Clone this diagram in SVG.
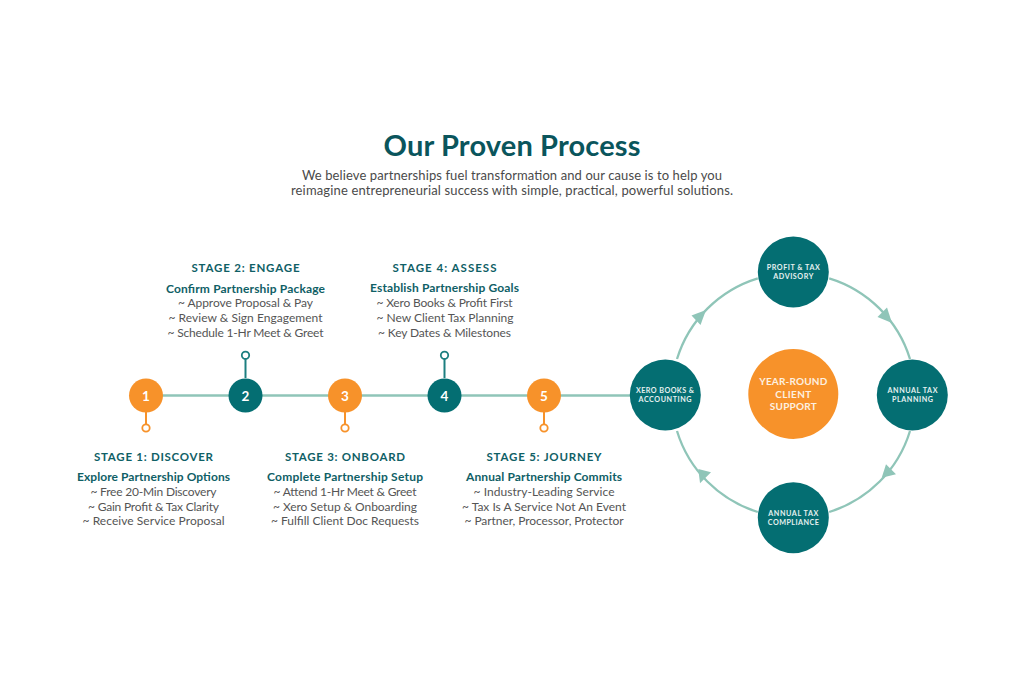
<svg xmlns="http://www.w3.org/2000/svg" width="1024" height="683" viewBox="0 0 1024 683">
<style>
text{font-family:"Lato","Open Sans","Liberation Sans",sans-serif;text-anchor:middle}
.title{font-size:29px;font-weight:700;fill:#0a555c}
.intro{font-size:13px;fill:#4a4a4a}
.stage{font-size:11.5px;font-weight:700;fill:#0f6066}
.sub{font-size:12px;font-weight:700;fill:#0f6066}
.item{font-size:12px;fill:#555}
.num{font-size:13.5px;font-weight:700;fill:#fff}
.cap{font-size:7.2px;font-weight:700;fill:#e6f1f0}
.core{font-size:10px;font-weight:700;fill:#fdf0e0}
.o{fill:#f7922a}.t{fill:#046e72}
.line{fill:none;stroke:#8fc5b8;stroke-width:2.3}
.head{fill:#8fc5b8}
.so{fill:#fff;stroke:#f7922a;stroke-width:1.8}
.st{fill:#fff;stroke:#1d7f80;stroke-width:1.8}
.sto{stroke:#f7922a;stroke-width:2;fill:none}
.stt{stroke:#1d7f80;stroke-width:2;fill:none}
</style>
<rect width="1024" height="683" fill="#fff"/>
<g id="heading">
<text class="title" x="512" y="155.5" textLength="257">Our Proven Process</text>
<text class="intro" x="512" y="180" textLength="420">We believe partnerships fuel transformation and our cause is to help you</text>
<text class="intro" x="512" y="195" textLength="442">reimagine entrepreneurial success with simple, practical, powerful solutions.</text>
</g>
<g id="connectors">
<path class="line" d="M146 395.5H640"/>
<path class="line" d="M829.2 278.3A122 122 0 0 1 910 359"/>
<path class="line" d="M910 431A122 122 0 0 1 829.2 512"/>
<path class="line" d="M757.8 512A122 122 0 0 1 677 431"/>
<path class="line" d="M677 359A122 122 0 0 1 757.8 278.3"/>
<polygon class="head" points="887,307.5 877.5,317 892,323"/>
<polygon class="head" points="886,464.3 896,474.3 881.7,477.7"/>
<polygon class="head" points="698.3,469 711,472.3 700,483.3"/>
<polygon class="head" points="706,310 691.5,315.5 700.5,325"/>
<path class="sto" d="M146 412V424"/><path class="stt" d="M245.5 378V359"/><path class="sto" d="M345 412V424"/><path class="stt" d="M444.5 378V359"/><path class="sto" d="M544 412V424"/>
</g>
<g id="stage-1">
<circle class="o" cx="146" cy="395.5" r="17"/><text class="num" x="146" y="400.5">1</text>
<circle class="so" cx="146" cy="428" r="3.7"/>
<text class="stage" x="153.5" y="460.5" textLength="119">STAGE 1: DISCOVER</text>
<text class="sub" x="153.5" y="481" textLength="153">Explore Partnership Options</text>
<text class="item" x="153.5" y="496" textLength="126">~ Free 20-Min Discovery</text>
<text class="item" x="153.5" y="510.5" textLength="131">~ Gain Profit &amp; Tax Clarity</text>
<text class="item" x="153.5" y="525" textLength="142">~ Receive Service Proposal</text>
</g>
<g id="stage-2">
<circle class="t" cx="245.5" cy="395.5" r="17"/><text class="num" x="245.5" y="400.5">2</text>
<circle class="st" cx="245.5" cy="355.3" r="3.7"/>
<text class="stage" x="245.5" y="271.5" textLength="108">STAGE 2: ENGAGE</text>
<text class="sub" x="245.5" y="292.5" textLength="159">Confirm Partnership Package</text>
<text class="item" x="245.5" y="307" textLength="135">~ Approve Proposal &amp; Pay</text>
<text class="item" x="245.5" y="322" textLength="154">~ Review &amp; Sign Engagement</text>
<text class="item" x="245.5" y="336.5" textLength="156">~ Schedule 1-Hr Meet &amp; Greet</text>
</g>
<g id="stage-3">
<circle class="o" cx="345" cy="395.5" r="17"/><text class="num" x="345" y="400.5">3</text>
<circle class="so" cx="345" cy="428" r="3.7"/>
<text class="stage" x="345" y="460.5" textLength="120">STAGE 3: ONBOARD</text>
<text class="sub" x="345" y="481" textLength="156">Complete Partnership Setup</text>
<text class="item" x="345" y="496" textLength="143">~ Attend 1-Hr Meet &amp; Greet</text>
<text class="item" x="345" y="510.5" textLength="144">~ Xero Setup &amp; Onboarding</text>
<text class="item" x="345" y="525" textLength="148">~ Fulfill Client Doc Requests</text>
</g>
<g id="stage-4">
<circle class="t" cx="444.5" cy="395.5" r="17"/><text class="num" x="444.5" y="400.5">4</text>
<circle class="st" cx="444.5" cy="355.3" r="3.7"/>
<text class="stage" x="444.5" y="271.5" textLength="104">STAGE 4: ASSESS</text>
<text class="sub" x="444.5" y="292" textLength="149">Establish Partnership Goals</text>
<text class="item" x="444.5" y="307" textLength="136">~ Xero Books &amp; Profit First</text>
<text class="item" x="445" y="322" textLength="137">~ New Client Tax Planning</text>
<text class="item" x="444.5" y="336.5" textLength="133">~ Key Dates &amp; Milestones</text>
</g>
<g id="stage-5">
<circle class="o" cx="544" cy="395.5" r="17"/><text class="num" x="544" y="400.5">5</text>
<circle class="so" cx="544" cy="428" r="3.7"/>
<text class="stage" x="544" y="460.5" textLength="115">STAGE 5: JOURNEY</text>
<text class="sub" x="544" y="481" textLength="156">Annual Partnership Commits</text>
<text class="item" x="544" y="496" textLength="141">~ Industry-Leading Service</text>
<text class="item" x="544" y="510.5" textLength="164">~ Tax Is A Service Not An Event</text>
<text class="item" x="544" y="525" textLength="159">~ Partner, Processor, Protector</text>
</g>
<g id="profit-tax-advisory">
<circle class="t" cx="793.3" cy="272" r="35.5"/>
<text class="cap" x="793.3" y="269.7" textLength="53">PROFIT &amp; TAX</text>
<text class="cap" x="793.3" y="278.7" textLength="40">ADVISORY</text>
</g>
<g id="annual-tax-planning">
<circle class="t" cx="912.3" cy="395" r="35.5"/>
<text class="cap" x="912.5" y="392.7" textLength="50">ANNUAL TAX</text>
<text class="cap" x="912.5" y="401.7" textLength="41">PLANNING</text>
</g>
<g id="annual-tax-compliance">
<circle class="t" cx="793.3" cy="517.7" r="35.5"/>
<text class="cap" x="793.3" y="515.7" textLength="50">ANNUAL TAX</text>
<text class="cap" x="793.3" y="524.7" textLength="51">COMPLIANCE</text>
</g>
<g id="xero-books-accounting">
<circle class="t" cx="665.3" cy="395" r="35.5"/>
<text class="cap" x="665" y="392.7" textLength="58">XERO BOOKS &amp;</text>
<text class="cap" x="665" y="401.7" textLength="53">ACCOUNTING</text>
</g>
<g id="year-round-client-support">
<circle class="o" cx="793.3" cy="394" r="45"/>
<text class="core" x="793.3" y="385" textLength="68">YEAR-ROUND</text>
<text class="core" x="793.3" y="397.5" textLength="36">CLIENT</text>
<text class="core" x="793.3" y="410" textLength="47">SUPPORT</text>
</g>
</svg>
